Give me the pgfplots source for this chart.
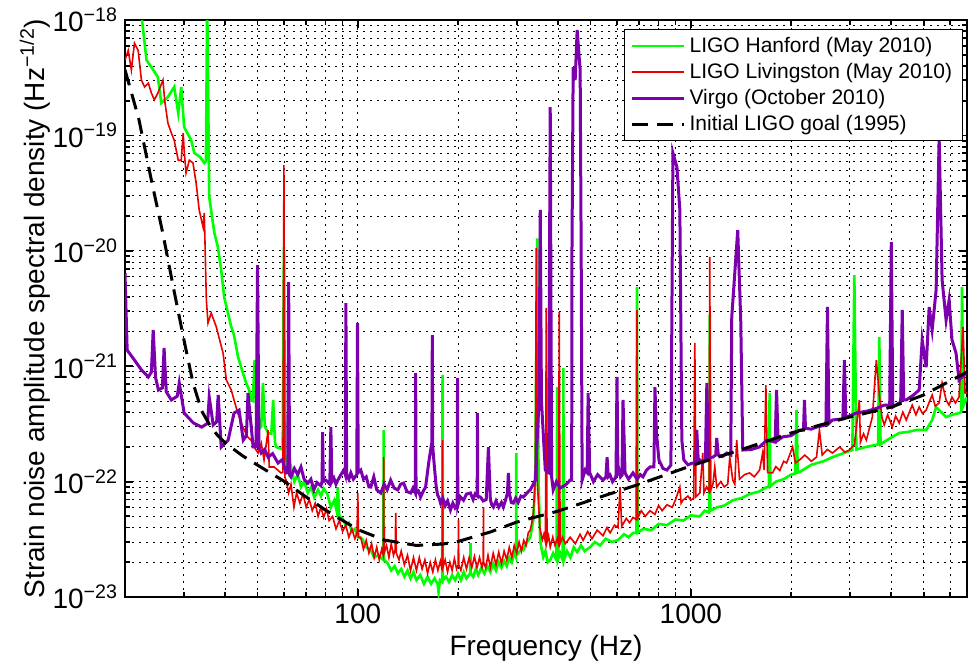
\documentclass[border=0pt]{standalone}
\usepackage{fontspec}
\setmainfont{Liberation Sans}
\usepackage{pgfplots}
\pgfplotsset{compat=1.18}
\definecolor{hgreen}{RGB}{0,255,0}
\definecolor{lred}{RGB}{235,0,0}
\definecolor{vpurple}{RGB}{125,0,175}
\begin{document}
\begin{tikzpicture}
\begin{axis}[
 scale only axis, width=421pt, height=288.5pt,
 xmode=log, ymode=log,
 xmin=20, xmax=6750, ymin=1e-23, ymax=1e-18,
 xtick={100,1000}, xticklabels={100,1000},
 minor xtick={20,30,40,50,60,70,80,90,200,300,400,500,600,700,800,900,2000,3000,4000,5000,6000},
 ytick={1e-23,1e-22,1e-21,1e-20,1e-19,1e-18},
 yticklabels={10\textsuperscript{−23},10\textsuperscript{−22},10\textsuperscript{−21},10\textsuperscript{−20},10\textsuperscript{−19},10\textsuperscript{−18}},
 minor ytick={2e-23,3e-23,4e-23,5e-23,6e-23,7e-23,8e-23,9e-23,2e-22,3e-22,4e-22,5e-22,6e-22,7e-22,8e-22,9e-22,2e-21,3e-21,4e-21,5e-21,6e-21,7e-21,8e-21,9e-21,2e-20,3e-20,4e-20,5e-20,6e-20,7e-20,8e-20,9e-20,2e-19,3e-19,4e-19,5e-19,6e-19,7e-19,8e-19,9e-19},
 grid=both,
 major grid style={black, line width=0.4pt, dash pattern=on 1pt off 2.5pt},
 minor grid style={black, line width=0.4pt, dash pattern=on 1pt off 2.5pt},
 axis line style={line width=1.3pt},
 tick style={black, line width=0.9pt},
 major tick length=4pt, minor tick length=2.5pt,
 tick label style={font=\fontsize{14}{16}\selectfont},
 label style={font=\fontsize{14}{16}\selectfont},
 xlabel={Frequency (Hz)},
 ylabel={Strain noise amplitude spectral density (Hz\textsuperscript{−1/2})},
 xlabel style={at={(axis description cs:0.5,-0.088)}, anchor=center},
 ylabel style={at={(axis description cs:-0.107,0.5)}, anchor=center},
 legend style={at={(0.995,0.984)}, anchor=north east, font=\fontsize{10.5}{12.5}\selectfont, draw=black, line width=0.6pt, inner xsep=3pt, inner ysep=1.5pt, row sep=0pt},
 legend cell align=left,
 legend image code/.code={\draw[#1, line cap=butt] (0pt,0pt) -- (26pt,0pt);},
]
% LIGO Hanford
\addplot[hgreen, line width=1.3pt] coordinates {
(22,1.6e-18)(22.5,1.0e-18)(23.2,4.5e-19)(24.0,3.91e-19)(25.1,3.2e-19)(25.7,1.91e-19)(26.9,2.15e-19)
(28.1,2.63e-19)(28.9,1.56e-19)(29.5,2.63e-19)(30.1,1.18e-19)(31.6,9.1e-20)(32.3,7.05e-20)(33.6,6.5e-20)
(34.6,5.77e-20)(35.0,6.0e-20)(35.3,1.5e-18)(35.8,2.93e-20)(37.1,1.43e-20)(38.0,1.08e-20)(38.9,6.8e-21)
(39.7,3.98e-21)(41.7,2.19e-21)(42.5,1.86e-21)(43.7,1.2e-21)(44.9,9.3e-22)(46.2,7.16e-22)(47.2,6.22e-22)
(47.8,5.1e-22)(48.4,5.0e-22)(49.0,1.13e-21)(49.6,4.0e-22)(50.2,2.8e-22)(51.3,3.0e-22)(51.9,7.16e-22)
(52.6,3.0e-22)(53.8,2.64e-22)(55.0,2.6e-22)(55.7,5.1e-22)(56.4,2.2e-22)(56.8,2.0e-22)(59.5,1.9e-22)
(60.0,1.08e-20)(60.5,1.7e-22)(60.9,1.63e-22)(62,1.2e-22)(63,1.34e-22)(64.5,1.0e-22)(66,1.15e-22)
(67.5,9.0e-23)(69,1.0e-22)(70.8,8.0e-23)(72.5,9.0e-23)(74,7.3e-23)(76,8.5e-23)(77.5,7.5e-23)(79,8.7e-23)
(81,7.8e-23)(83,6.0e-23)(85,6.9e-23)(86.5,5.5e-23)(87.1,8.97e-23)(88,5.0e-23)(90,4.8e-23)(92,4.2e-23)
(94,4.4e-23)(96,3.7e-23)(98,3.9e-23)(100,3.3e-23)(103,3.2e-23)(106,2.7e-23)(109,2.6e-23)(112,2.2e-23)
(115,2.3e-23)(119.3,2.1e-23)(119.6,2.8e-22)(119.9,2.1e-23)(123,1.95e-23)(126,1.7e-23)(129,1.85e-23)
(132,1.6e-23)(135,1.75e-23)(138,1.5e-23)(141,1.7e-23)(144,1.45e-23)(147,1.65e-23)(150,1.4e-23)
(154,1.55e-23)(158,1.3e-23)(162,1.5e-23)(166,1.3e-23)(170,1.45e-23)(173.6,1.30e-23)(174.8,1.1e-23)
(176.5,1.4e-23)(179.3,1.35e-23)(179.7,8.4e-22)(180.1,1.4e-23)(184,1.5e-23)(188,1.35e-23)(192,1.55e-23)
(196,1.4e-23)(200,1.6e-23)(204,1.4e-23)(208,1.65e-23)(212,1.45e-23)(217.5,1.6e-23)(217.9,2.93e-23)
(218.3,1.6e-23)(222,1.5e-23)(226,1.75e-23)(230,1.55e-23)(235,1.8e-23)(240,1.6e-23)(245,1.85e-23)
(250,1.65e-23)(255,1.95e-23)(260,1.7e-23)(265,2.0e-23)(270,1.8e-23)(275,2.05e-23)(280,1.85e-23)
(285,2.2e-23)(290,2.0e-23)(295,2.4e-23)(298.8,2.2e-23)(299.2,1.77e-22)(299.6,2.3e-23)(305,2.45e-23)
(310,2.6e-23)(314,2.55e-23)(320,2.9e-23)(325,3.1e-23)(329.6,3.31e-23)(336.5,4.64e-23)(341,1.0e-22)
(345.9,1.28e-20)(349,1.0e-22)(353,3.0e-23)(360.5,2.22e-23)(366,2.5e-23)(372,2.0e-23)(378.3,2.09e-23)
(386,2.4e-23)(395,2.1e-23)(397.1,6.6e-22)(399,2.1e-23)(405,2.4e-23)(412,2.1e-23)(414,9.65e-22)(416,2.1e-23)
(425,2.5e-23)(435,2.2e-23)(445,2.7e-23)(455.7,2.45e-23)(468,2.8e-23)(480,2.5e-23)(498.5,2.71e-23)
(515,3.0e-23)(534,2.8e-23)(555,3.2e-23)(580,3.0e-23)(604.5,3.12e-23)(630,3.5e-23)(650,3.3e-23)
(670.4,3.59e-23)(686,3.6e-23)(689.2,4.86e-21)(692,3.6e-23)(720,3.9e-23)(760,3.8e-23)(800,4.3e-23)
(847.6,4.2e-23)(900,4.7e-23)(950,4.6e-23)(1000,5.1e-23)(1064,5.0e-23)(1100,5.6e-23)(1135,5.4e-23)
(1140,2.78e-21)(1145,5.6e-23)(1200,6.0e-23)(1260,6.2e-23)(1336,6.9e-23)(1420,7.2e-23)(1500,7.8e-23)
(1600,8.2e-23)(1689,8.97e-23)(1715,9e-23)(1724,5.86e-22)(1733,9.1e-23)(1800,1.0e-22)(1900,1.05e-22)
(2000,1.15e-22)(2060,1.18e-22)(2077,4.17e-22)(2094,1.2e-22)(2120,1.21e-22)(2300,1.4e-22)(2500,1.5e-22)
(2662,1.63e-22)(2850,1.75e-22)(3055,1.88e-22)(3097,6.17e-21)(3140,1.9e-22)(3365,2.0e-22)(3650,2.1e-22)
(3681,1.79e-21)(3712,2.1e-22)(3757,2.16e-22)(4027,2.44e-22)(4224,2.64e-22)(4500,2.7e-22)(4750,2.8e-22)
(5089,2.8e-22)(5304,3.42e-22)(5452,4.43e-22)(5566,4.17e-22)(5841,3.63e-22)(6100,3.8e-22)(6387,3.93e-22)
(6480,4e-22)(6522,4.86e-21)(6570,4.5e-22)(6750,5.4e-22)
};
\addlegendentry{LIGO Hanford (May 2010)}
% LIGO Livingston
\addplot[lred, line width=0.8pt] coordinates {
(20,4.5e-19)(20.45,5.45e-19)(20.9,3.69e-19)(21.35,6.3e-19)(21.9,5.45e-19)(22.4,3.02e-19)(22.9,2.63e-19)
(23.5,2.84e-19)(24.0,2.33e-19)(24.5,2.03e-19)(25.1,2.33e-19)(26.0,3.02e-19)(26.3,2.03e-19)(26.9,1.28e-19)
(27.55,1.05e-19)(28.1,9.1e-20)(28.9,6.1e-20)(29.5,6.1e-20)(29.9,1.05e-19)(30.1,7.46e-20)(30.5,4.73e-20)
(31.2,6.1e-20)(32.0,5.77e-20)(32.7,3.87e-20)(33.4,2.26e-20)(34.3,1.61e-20)(34.6,2.13e-20)(35.1,3.74e-21)
(35.5,2.37e-21)(36.3,2.89e-21)(37.6,2.19e-21)(39.4,1.3e-21)(40.3,7.6e-22)(41.7,6.22e-22)(42.5,5.1e-22)
(43.6,3.93e-22)(45.2,2.97e-22)(46.7,2.44e-22)(47.8,2.29e-22)(48.8,2.0e-22)(50.2,1.77e-22)(51.3,2.16e-22)
(52.3,1.54e-22)(53.8,2.8e-22)(54.2,1.34e-22)(56.1,1.34e-22)(58.8,1.19e-22)(59.6,1.2e-22)(60.0,5.53e-20)
(60.4,1.1e-22)(60.9,1.03e-22)(62,8.0e-23)(63,9.5e-23)(64.3,6.0e-23)(65.5,8.0e-23)(67,6.5e-23)(68.5,7.8e-23)
(70,6.0e-23)(71.5,7.0e-23)(73,5.6e-23)(74.5,6.5e-23)(76,5.0e-23)(77.5,6.0e-23)(79,4.9e-23)(80.5,5.8e-23)
(82,4.6e-23)(84,5.0e-23)(86,3.9e-23)(88,4.6e-23)(90,3.7e-23)(92,4.2e-23)(94,3.3e-23)(96,3.9e-23)
(98,3.2e-23)(99.5,3.6e-23)(100,7.97e-23)(100.5,3.3e-23)(102,3.3e-23)(104,2.6e-23)(106,3.1e-23)(108,2.4e-23)
(110,2.9e-23)(112,2.2e-23)(114,2.7e-23)(116,2.1e-23)(118,2.6e-23)(119.3,2.3e-23)(119.6,1.63e-22)
(119.9,2.4e-23)(122,2.8e-23)(124,2.2e-23)(126,2.9e-23)(128,2.3e-23)(129.5,2.6e-23)(130,5.35e-23)
(130.5,2.4e-23)(133,2.1e-23)(135,2.5e-23)(138,1.9e-23)(141,2.3e-23)(144,1.7e-23)(147,2.2e-23)(150,1.7e-23)
(153,2.2e-23)(156,1.75e-23)(159,2.1e-23)(162,1.6e-23)(165,2.0e-23)(168,1.65e-23)(171,2.1e-23)(174,1.7e-23)
(177,2.05e-23)(179.3,1.7e-23)(179.7,2.29e-22)(180.1,1.8e-23)(183,2.1e-23)(186,1.65e-23)(189,2.0e-23)
(192,1.7e-23)(195,2.15e-23)(198,1.75e-23)(200.2,1.9e-23)(200.6,4.64e-23)(201,1.9e-23)(204,1.7e-23)
(208,2.2e-23)(212,1.75e-23)(216,2.2e-23)(220,1.8e-23)(224,2.25e-23)(228,1.8e-23)(232,2.2e-23)(236,1.8e-23)
(238,2.0e-23)(238.4,6.02e-23)(238.8,2.0e-23)(242,1.8e-23)(246,2.3e-23)(250,1.8e-23)(255,2.4e-23)
(260,1.9e-23)(265,2.45e-23)(270,1.95e-23)(275,2.5e-23)(280,2.1e-23)(285,2.7e-23)(290,2.2e-23)(295,2.8e-23)
(300,2.4e-23)(305,3.0e-23)(310,2.5e-23)(315,3.1e-23)(320,2.8e-23)(325,3.6e-23)(329.6,3.81e-23)
(333,4.4e-23)(336.5,5.35e-23)(341.2,1.03e-22)(343.5,1.06e-20)(346,1.0e-22)(352,4.0e-23)(358,3.12e-23)
(362,3.5e-23)(366,3.0e-23)(368.1,3.2e-21)(370,3e-23)(374,3.4e-23)(378.3,2.71e-23)(385,3.3e-23)
(391,2.8e-23)(397.1,3.2e-23)(400.5,2.9e-23)(402.6,2.95e-21)(405,2.9e-23)(412,3.3e-23)(420,2.9e-23)
(434.2,3.3e-23)(450,2.9e-23)(465,3.5e-23)(475,3.1e-23)(490,3.7e-23)(505,3.2e-23)(523.3,3.8e-23)
(545,3.4e-23)(560,4.0e-23)(572.3,3.6e-23)(590,4.2e-23)(604.5,4.0e-23)(613,8.97e-23)(620,4.1e-23)
(640,4.8e-23)(655,4.4e-23)(670.4,4.9e-23)(686,4.7e-23)(689.2,3.07e-21)(692,4.8e-23)(710,5.6e-23)
(730,5.0e-23)(753.9,5.6e-23)(780,5.2e-23)(800,6.2e-23)(820,5.6e-23)(847.6,6.3e-23)(880,6.0e-23)
(900,7.0e-23)(927,8.97e-23)(935,6.5e-23)(946.4,6.9e-23)(980,7.5e-23)(1000,6.9e-23)(1020,7.2e-23)
(1028,1.59e-21)(1036,7.4e-23)(1064,7.97e-23)(1086,1.77e-22)(1095,8.0e-23)(1115,9.0e-23)(1135,8.2e-23)
(1140,8.83e-21)(1146,8.4e-23)(1165,9.5e-23)(1180,1.34e-22)(1196,8.97e-23)(1230,1.0e-22)(1260,9.0e-23)
(1290,9.5e-23)(1309,1.63e-22)(1336,1.03e-22)(1355,9.5e-23)(1373,2.29e-22)(1400,1.05e-22)(1450,1.15e-22)
(1502,1.19e-22)(1550,1.1e-22)(1609,1.26e-22)(1643,1.77e-22)(1660,1.26e-22)(1680,6.87e-22)(1700,1.2e-22)
(1760,1.19e-22)(1800,1.35e-22)(1850,1.25e-22)(1900,1.5e-22)(1939,1.45e-22)(2021,2.0e-22)(2060,1.45e-22)
(2120,1.54e-22)(2200,1.7e-22)(2300,1.5e-22)(2384,1.63e-22)(2433,2.8e-22)(2480,1.7e-22)(2570,1.9e-22)
(2662,1.77e-22)(2800,2.0e-22)(2900,1.8e-22)(2992,1.88e-22)(3100,2.1e-22)(3206,5.1e-22)(3230,2.2e-22)
(3300,2.6e-22)(3365,2.29e-22)(3508,3.63e-22)(3606,1.13e-21)(3681,5.63e-22)(3750,3.6e-22)(3808,3.1e-22)
(3900,3.8e-22)(4027,2.97e-22)(4120,3.7e-22)(4224,3.22e-22)(4330,4.0e-22)(4434,3.42e-22)(4620,4.6e-22)
(4740,3.8e-22)(4848,4.43e-22)(4960,3.9e-22)(5089,4.17e-22)(5200,4.9e-22)(5304,5.63e-22)(5420,4.5e-22)
(5566,4.81e-22)(5682,7.16e-22)(5841,5.1e-22)(5960,4.6e-22)(6085,5.4e-22)(6230,4.8e-22)(6387,5.4e-22)
(6567,2.19e-21)(6660,5.86e-22)(6750,5.86e-22)
};
\addlegendentry{LIGO Livingston (May 2010)}
% Virgo
\addplot[vpurple, line width=1.5pt] coordinates {
(20,6.4e-21)(20.3,1.38e-21)(21.35,1.13e-21)(22.4,9.3e-22)(23.5,8.07e-22)(24.0,8.9e-22)(24.3,2.06e-21)
(24.7,8.0e-22)(25.2,6.22e-22)(25.9,6.5e-22)(26.2,1.44e-21)(26.6,6.0e-22)(27.55,5.1e-22)(28.7,5.5e-22)
(29.1,7.16e-22)(30.1,3.93e-22)(32.1,3.22e-22)(34.0,2.97e-22)(35.4,3.2e-22)(35.8,5.4e-22)(36.8,3.1e-22)
(37.7,3.3e-22)(38.1,5.63e-22)(38.9,1.99e-22)(40.8,2.29e-22)(42.5,3.93e-22)(44.0,4.17e-22)(45.3,2.29e-22)
(46.3,2.5e-22)(46.8,5.86e-22)(48.5,2.0e-22)(49.5,2.0e-22)(50.0,7.5e-21)(50.5,2.0e-22)(51.3,1.77e-22)
(52.5,1.9e-22)(53.8,1.63e-22)(55.5,1.75e-22)(57.6,1.45e-22)(59.3,1.55e-22)(60.9,1.19e-22)(61.6,1.2e-22)
(62.0,5.35e-21)(62.4,1.15e-22)(63.0,1.1e-22)(64.5,1.3e-22)(66,1.15e-22)(67.5,1.34e-22)(69,1.05e-22)
(70.8,9.7e-23)(72.3,1.05e-22)(73.8,8.5e-23)(75.5,9.8e-23)(77.5,9.2e-23)(78.1,1.0e-22)(78.4,2.69e-22)
(78.8,1.0e-22)(80.2,1.03e-22)(82.4,9.5e-23)(83.0,2.97e-22)(83.6,1.0e-22)(84.8,1.07e-22)(86,9.5e-23)
(87.1,1.03e-22)(89,1.15e-22)(90.8,1.26e-22)(91.7,1.15e-22)(92.1,3.53e-21)(92.6,1.15e-22)(94,1.05e-22)
(95.3,1.19e-22)(97,1.05e-22)(99.3,1.15e-22)(99.8,2.37e-21)(100.3,1.2e-22)(102.1,1.26e-22)(104,1.05e-22)
(106,1.1e-22)(108,9.0e-23)(109.4,8.97e-23)(111.7,1.1e-22)(114,8.5e-23)(117.2,7.97e-23)(120,9.5e-23)
(122.5,8.5e-23)(125.5,1.03e-22)(128.5,8.8e-23)(131.8,8.48e-23)(134.5,9.5e-23)(137.3,9.7e-23)
(140.5,8.2e-23)(144.1,7.97e-23)(146.5,8.8e-23)(148.8,8.0e-23)(149.2,8.7e-22)(149.6,8.0e-23)(152,8.3e-23)
(154.4,7.35e-23)(157,8.2e-23)(159.8,8.97e-23)(163.5,1.5e-22)(166.9,2.2e-22)(167.4,1.86e-21)(167.9,2.0e-22)
(170,1.3e-22)(172,9.0e-23)(173.6,7.66e-23)(175.5,7.2e-23)(177.2,6.52e-23)(180,7.2e-23)(183,6.2e-23)
(186,6.8e-23)(189.8,5.67e-23)(193,6.5e-23)(196,5.9e-23)(198.9,6.2e-23)(199.3,7.9e-22)(199.7,6.2e-23)
(203,7.4e-23)(207.7,6.9e-23)(212,7.8e-23)(217.9,7.97e-23)(222,7.0e-23)(225,7.8e-23)(228.3,7.5e-23)
(228.7,3.93e-22)(229.1,7.5e-23)(233.5,7.35e-23)(238,6.8e-23)(243,7.0e-23)(246.7,1.99e-22)(250,7.0e-23)
(252.5,6.3e-23)(255.4,6.02e-23)(260,6.8e-23)(265,6.0e-23)(270,6.6e-23)(273.6,6.02e-23)(278,7.0e-23)
(281.5,8.0e-23)(283.2,1.19e-22)(285,8.0e-23)(289,6.6e-23)(293.2,6.52e-23)(298,7.2e-23)(303,6.6e-23)
(309,7.5e-23)(314.1,7.35e-23)(320,7.8e-23)(325,8.2e-23)(329.6,8.48e-23)(341.2,1.03e-22)(350,5e-22)
(353.1,2.26e-20)(356,5e-22)(365.6,1.26e-22)(374,1.2e-22)(378.3,1.76e-19)(382,1.1e-22)(386.2,8.48e-23)
(395,1.0e-22)(405,8.8e-23)(419.7,9.3e-23)(434.2,1.03e-22)(438.8,1.03e-22)(439.4,7.8e-21)(443.3,3.91e-19)
(449.5,3.02e-19)(455.7,8.2e-19)(465.2,3.69e-19)(468.5,1.0e-20)(471.7,1.03e-22)(481.6,1.26e-22)
(488.3,1.2e-22)(491.7,5.86e-22)(496.8,1.2e-22)(510,1.0e-22)(525,1.15e-22)(545,1.03e-22)(556,1.1e-22)
(560.5,1.63e-22)(565,1.1e-22)(572.3,1.14e-22)(582,1.0e-22)(592,1.07e-22)(596,1.1e-22)(600.3,8.07e-22)
(604,1.2e-22)(608.7,1.26e-22)(615,1.1e-22)(621.4,1.14e-22)(625.7,5.1e-22)(634.6,1.19e-22)(650,1.05e-22)
(670.4,1.19e-22)(690,1.05e-22)(705,1.15e-22)(718.4,1.1e-22)(735,1.25e-22)(753.9,1.34e-22)(775,1.34e-22)
(780.4,6.6e-22)(788.5,2.64e-22)(802,1.54e-22)(825,1.3e-22)(847.6,1.26e-22)(871.3,1.39e-22)(883.5,7.05e-20)
(908.2,5.33e-20)(926.9,2.26e-20)(939.7,2.29e-22)(952.8,1.54e-22)(980,1.4e-22)(1014,1.45e-22)(1035,1.45e-22)
(1042,2.8e-22)(1053,1.5e-22)(1064,1.54e-22)(1085,1.45e-22)(1106,1.54e-22)(1117,7.16e-22)(1129,1.6e-22)
(1164,1.63e-22)(1188,1.7e-22)(1196,2.39e-22)(1209,1.7e-22)(1245,1.65e-22)(1282,1.77e-22)(1318,1.7e-22)
(1327,2.67e-21)(1383,1.51e-20)(1412,2.5e-21)(1432,1.88e-22)(1520,1.9e-22)(1609,2.0e-22)(1689,2.29e-22)
(1791,2.2e-22)(1809,6.22e-22)(1828,2.29e-22)(1886,2.44e-22)(2000,2.5e-22)(2120,2.8e-22)(2179,2.8e-22)
(2194,5.1e-22)(2209,2.9e-22)(2300,2.85e-22)(2384,2.97e-22)(2545,3.1e-22)(2572,3.26e-21)(2598,3.2e-22)
(2662,3.42e-22)(2861,3.5e-22)(2891,1.13e-21)(2920,3.6e-22)(3141,3.93e-22)(3400,4.1e-22)(3600,4.3e-22)
(3808,4.6e-22)(3956,4.6e-22)(3999,1.19e-20)(4040,4.43e-22)(4267,4.9e-22)(4313,3.07e-21)(4357,5.1e-22)
(4434,5.1e-22)(4650,5.6e-22)(4848,6.22e-22)(4950,1.69e-21)(5089,9.8e-22)(5195,3.26e-21)(5304,2.06e-21)
(5452,4.58e-21)(5566,9.7e-20)(5682,5.6e-21)(5841,2.51e-21)(5963,3.74e-21)(6085,1.69e-21)(6256,1.3e-21)
(6387,7.6e-22)(6750,8.9e-22)
};
\addlegendentry{Virgo (October 2010)}
% Initial LIGO goal
\addplot[black, line width=1.5pt, dash pattern=on 8pt off 4.5pt] coordinates {
(20,3.7e-19)(22,1.39e-19)(24,4.1e-20)(26,1.4e-20)(28,4.67e-21)(30,1.74e-21)(32,7.16e-22)(34,4.09e-22)
(36,3.06e-22)(38,2.5e-22)(40,2.16e-22)(45,1.68e-22)(50,1.39e-22)(60,1.01e-22)(70,7.35e-23)(80,5.67e-23)
(100,3.84e-23)(120,3.12e-23)(150,2.80e-23)(180,2.88e-23)(200,3.03e-23)(250,3.66e-23)(300,4.46e-23)
(400,5.56e-23)(500,6.9e-23)(700,9.5e-23)(1000,1.37e-22)(1500,2.0e-22)(2000,2.64e-22)(3000,3.63e-22)
(4000,4.43e-22)(5000,5.63e-22)(6000,7.45e-22)(6750,8.9e-22)
};
\addlegendentry{Initial LIGO goal (1995)}
\end{axis}
\pgfresetboundingbox
\path[use as bounding box] (-62.5pt,-36pt) rectangle (422.5pt,298.5pt);
\end{tikzpicture}
\end{document}
